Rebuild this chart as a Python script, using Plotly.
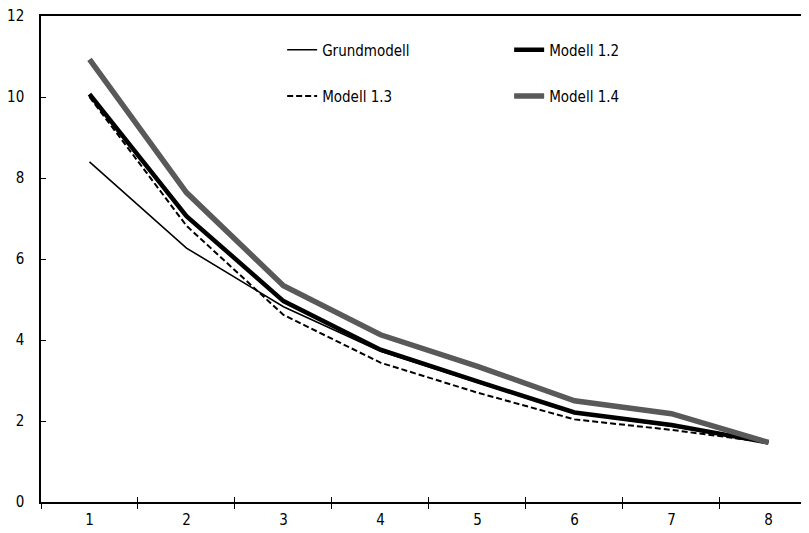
import plotly.graph_objects as go

categories = ["1", "2", "3", "4", "5", "6", "7", "8"]
grundmodell = [8.40, 6.27, 4.82, 3.72, 2.95, 2.20, 1.87, 1.47]
modell_12 = [10.07, 7.06, 4.96, 3.76, 2.98, 2.21, 1.90, 1.47]
modell_13 = [10.00, 6.82, 4.62, 3.44, 2.70, 2.04, 1.78, 1.47]
modell_14 = [10.93, 7.64, 5.34, 4.13, 3.35, 2.50, 2.18, 1.47]

FONT = "DejaVu Sans Condensed, Liberation Sans Narrow, Arial Narrow, sans-serif"
FS = 15

fig = go.Figure()
fig.add_trace(go.Scatter(x=categories, y=grundmodell, mode="lines", name="Grundmodell",
                         line=dict(color="#000000", width=1.6), legend="legend"))
fig.add_trace(go.Scatter(x=categories, y=modell_12, mode="lines", name="Modell 1.2",
                         line=dict(color="#000000", width=4.5), legend="legend"))
fig.add_trace(go.Scatter(x=categories, y=modell_13, mode="lines", name="Modell 1.3",
                         line=dict(color="#000000", width=2, dash="6px,3px"), legend="legend2"))
fig.add_trace(go.Scatter(x=categories, y=modell_14, mode="lines", name="Modell 1.4",
                         line=dict(color="#595959", width=5.5), legend="legend2"))
# invisible trace to carry inside half of the boundary ticks
fig.add_trace(go.Scatter(x=categories, y=grundmodell, mode="lines", xaxis="x2",
                         line=dict(width=0), opacity=0, showlegend=False, hoverinfo="skip"))

xr = [-0.5, 7.418]
legend_common = dict(orientation="h", xanchor="left", yanchor="middle",
                     bgcolor="rgba(0,0,0,0)", borderwidth=0,
                     font=dict(family=FONT, size=FS, color="#000000"),
                     entrywidth=182, entrywidthmode="pixels", itemclick=False)

fig.update_layout(
    width=801, height=525,
    margin=dict(l=33, r=0, t=8, b=31),
    paper_bgcolor="white", plot_bgcolor="white",
    font=dict(family=FONT, size=FS, color="#000000"),
    showlegend=True,
    legend=dict(x=0.314, y=0.93, **legend_common),
    legend2=dict(x=0.314, y=0.835, **legend_common),
    xaxis=dict(type="category", range=xr, showgrid=False, showline=True,
               linecolor="#000000", linewidth=1.5, mirror=True,
               ticks="outside", ticklen=5, tickcolor="#000000", tickwidth=1,
               tickson="boundaries", tickfont=dict(family=FONT, size=FS, color="#000000"),
               ticklabelstandoff=3, zeroline=False),
    xaxis2=dict(type="category", range=xr, overlaying="x", matches="x", showgrid=False,
                showline=False, ticks="inside", ticklen=5, tickcolor="#000000", tickwidth=1,
                tickson="boundaries", showticklabels=False, side="bottom"),
    yaxis=dict(range=[0, 12], dtick=2, showgrid=False, showline=True,
               linecolor="#000000", linewidth=1.5, ticks="inside", ticklen=5,
               tickcolor="#000000", tickwidth=1, zeroline=False,
               tickfont=dict(family=FONT, size=FS, color="#000000"),
               ticklabelstandoff=12, ticklabeloverflow="allow"),
)

fig.write_html("out.html")
